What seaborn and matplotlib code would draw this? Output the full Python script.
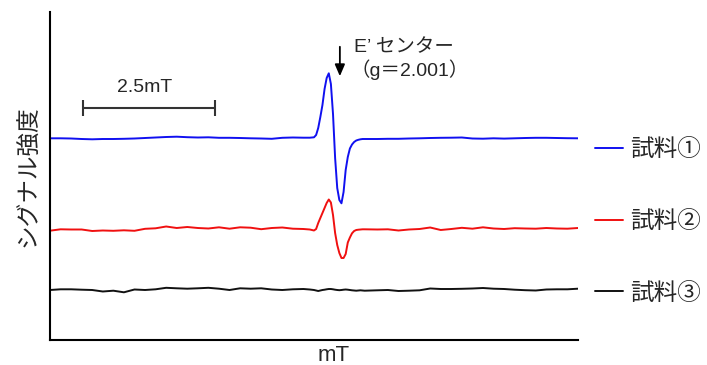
import numpy as np
import pandas as pd
import seaborn as sns
import matplotlib.pyplot as plt

# magnetic field (relative, mT)
field_mT = [0.0, 0.2, 0.4, 0.6, 0.8, 1.0, 1.2, 1.4, 1.6, 1.8, 2.0, 2.2, 2.4, 2.6, 2.8,
            3.0, 3.2, 3.4, 3.6, 3.8, 4.0, 4.2, 4.4, 4.6, 4.8, 4.92,
            5.00, 5.04, 5.08, 5.12, 5.16, 5.20, 5.24, 5.28, 5.32, 5.36, 5.40, 5.44,
            5.48, 5.52, 5.56, 5.60, 5.64, 5.68, 5.72, 5.76, 5.80, 5.84, 5.88, 5.92, 5.96,
            6.2, 6.4, 6.6, 6.8, 7.0, 7.2, 7.4, 7.6, 7.8, 8.0, 8.2, 8.4, 8.6, 8.8,
            9.0, 9.2, 9.4, 9.6, 9.8, 10.0]

# signal intensity (a.u., stacked)
sample1 = [201.7, 201.7, 201.5, 201.0, 200.7, 201.0, 201.0, 201.2, 201.5, 202.0, 202.5, 203.0, 203.3, 202.8, 202.5,
           202.7, 202.2, 202.2, 202.0, 201.7, 201.5, 201.2, 202.2, 202.5, 202.3, 202.3,
           202.7, 205.0, 212.0, 223.0, 235.0, 251.0, 262.0, 266.7, 256.0, 226.0, 182.0, 152.0,
           140.0, 136.7, 148.0, 170.0, 183.0, 191.5, 195.5, 198.0, 199.5, 200.2, 200.7, 201.0, 201.0,
           201.0, 201.2, 201.2, 201.5, 201.7, 202.0, 202.2, 202.3, 202.5, 201.5, 201.3, 201.7, 201.4, 201.7,
           202.0, 202.2, 202.2, 202.0, 201.8, 201.7]
sample2 = [109.3, 110.7, 110.5, 110.5, 109.0, 109.5, 109.2, 109.7, 109.2, 111.2, 111.7, 113.5, 112.0, 113.0, 112.0,
           111.5, 112.7, 111.3, 112.7, 112.3, 110.8, 112.0, 112.5, 111.3, 111.0, 110.5,
           109.5, 111.0, 117.0, 122.0, 127.0, 132.0, 137.0, 140.5, 137.5, 125.0, 107.0, 95.0,
           87.0, 82.0, 82.0, 86.0, 97.5, 102.5, 106.7, 109.0, 110.0, 110.3, 110.5, 110.7, 110.7,
           110.5, 110.7, 109.5, 110.5, 111.0, 112.5, 110.0, 111.0, 112.2, 111.3, 112.7, 111.5, 111.0, 111.8,
           111.5, 111.3, 112.0, 111.5, 111.3, 112.0]
sample3 = [50.0, 50.7, 50.7, 50.3, 50.0, 48.5, 49.3, 47.7, 50.5, 50.0, 50.7, 52.2, 51.7, 51.3, 51.7,
           52.2, 51.3, 50.0, 51.7, 51.3, 51.7, 50.5, 50.0, 50.7, 51.0, 50.5,
           50.0, 49.5, 49.0, 49.5, 50.0, 50.3, 50.7, 51.0, 51.0, 50.7, 50.3, 50.0,
           49.8, 50.0, 50.3, 50.5, 50.3, 50.0, 49.7, 49.5, 49.3, 49.5, 49.7, 49.5, 49.3,
           49.7, 50.0, 49.0, 49.3, 49.7, 51.5, 51.0, 51.0, 51.2, 51.5, 52.0, 51.3, 51.0, 50.3,
           49.8, 49.5, 50.5, 50.7, 50.7, 51.3]

sample_names = ["試料①", "試料②", "試料③"]
colors = ["#1010f0", "#f01010", "#111111"]

# scale bar and E' center marker
scale_start = 0.63
scale_len = 2.5
scale_level = 231.7
center_field = 5.49

sns.set_style("white")
plt.rcParams['font.family'] = ['Liberation Sans', 'Noto Sans CJK JP']

df = pd.DataFrame({
    "field": field_mT * 3,
    "intensity": sample1 + sample2 + sample3,
    "sample": np.repeat(sample_names, len(field_mT)),
})

fig = plt.figure(figsize=(7.07, 3.65), dpi=100)
ax = fig.add_axes([50 / 707, 25 / 365, 528 / 707, 328 / 365])

sns.lineplot(data=df, x="field", y="intensity", hue="sample", palette=colors,
             estimator=None, linewidth=1.4, ax=ax)

ax.set_xlim(0, 10.0)
ax.set_ylim(0, 328)
ax.set_xticks([])
ax.set_yticks([])
for side in ["top", "right"]:
    ax.spines[side].set_visible(False)
for side in ["left", "bottom"]:
    ax.spines[side].set_color("black")
    ax.spines[side].set_linewidth(1.5)

ax.set_ylabel("シグナル強度", fontsize=17, labelpad=7)
ax.set_xlabel("mT", fontsize=16)
ax.xaxis.set_label_coords(0.538, -0.015)

# scale bar
ax.hlines(scale_level, scale_start, scale_start + scale_len, color="#333333", lw=1.5)
ax.vlines([scale_start, scale_start + scale_len], scale_level - 8, scale_level + 8,
          color="#333333", lw=1.5)
ax.text(scale_start + scale_len / 2 - 0.09, 252, "2.5mT", fontsize=14,
        ha="center", va="center")

# E' center arrow
ax.annotate("", xy=(center_field, 261), xytext=(center_field, 296),
            arrowprops=dict(arrowstyle="-|>,head_width=0.3,head_length=0.7",
                            color="black", lw=1.3))
ax.text(5.76, 292, "E’ センター", fontsize=14, ha="left", va="center")
ax.text(5.70, 270, "（g＝2.001）", fontsize=14, ha="left", va="center")

ax.legend(loc="center left", bbox_to_anchor=(595 / 707, 0.392),
          bbox_transform=fig.transFigure, frameon=False, fontsize=17,
          handlelength=1.19, handletextpad=0.3, labelspacing=2.1,
          borderpad=0, borderaxespad=0)

fig.savefig("out.png", dpi=100)
